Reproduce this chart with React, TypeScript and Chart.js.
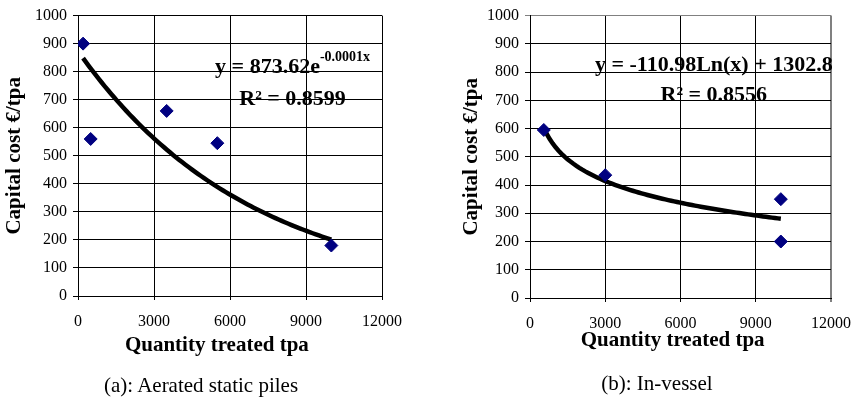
import React, { useEffect, useRef } from 'react';
import { Chart, registerables } from 'chart.js';

Chart.register(...registerables);

const FONT = '"Liberation Serif", "Times New Roman", Times, serif';

// (a) Aerated static piles
const pilesQuantity = [200, 500, 3500, 5500, 10000];
const pilesCost = [900, 560, 660, 545, 180];
// (b) In-vessel
const vesselQuantity = [550, 3000, 10000, 10000];
const vesselCost = [595, 435, 350, 200];

const xTickValues = [0, 3000, 6000, 9000, 12000];
const yTickValues = [0, 100, 200, 300, 400, 500, 600, 700, 800, 900, 1000];

// trend-line coefficients (as drawn)
const pilesFitA = 873.62;
const pilesFitK = -0.000147;
const vesselFitSlope = -110.98;
const vesselFitIntercept = 1302.8;

const pilesEqMain = 'y = 873.62e';
const pilesEqSup = '-0.0001x';
const pilesR2 = 'R² = 0.8599';
const vesselEqMain = 'y = -110.98Ln(x) + 1302.8';
const vesselR2 = 'R² = 0.8556';

const xTitle = 'Quantity treated tpa';
const yTitle = 'Capital cost €/tpa';
const pilesCaption = '(a): Aerated static piles';
const vesselCaption = '(b): In-vessel';

function sampleCurve(xs: number[], f: (x: number) => number) {
  const lo = Math.min(...xs);
  const hi = Math.max(...xs);
  const pts: { x: number; y: number }[] = [];
  const n = 80;
  for (let i = 0; i <= n; i++) {
    const x = lo + ((hi - lo) * i) / n;
    pts.push({ x, y: f(x) });
  }
  return pts;
}

type Eq = { main: string; sup?: string; r2: string; x: number; y1: number; y2: number };

function eqPlugin(eq: Eq) {
  return {
    id: 'equationLabel',
    afterDatasetsDraw(chart: any) {
      const { ctx, scales } = chart;
      const xs = scales.x;
      const ys = scales.y;
      const mainFont = `bold 22px ${FONT}`;
      const supFont = `bold 14px ${FONT}`;
      ctx.save();
      ctx.fillStyle = '#000';
      ctx.textBaseline = 'middle';
      ctx.font = mainFont;
      const wMain = ctx.measureText(eq.main).width;
      ctx.font = supFont;
      const wSup = eq.sup ? ctx.measureText(eq.sup).width : 0;
      const cx = xs.getPixelForValue(eq.x);
      const cy1 = ys.getPixelForValue(eq.y1);
      const left = cx - (wMain + wSup) / 2;
      ctx.textAlign = 'left';
      ctx.font = mainFont;
      ctx.fillText(eq.main, left, cy1);
      if (eq.sup) {
        ctx.font = supFont;
        ctx.fillText(eq.sup, left + wMain, cy1 - 10);
      }
      ctx.font = mainFont;
      ctx.textAlign = 'center';
      ctx.fillText(eq.r2, cx, ys.getPixelForValue(eq.y2));
      ctx.restore();
    },
  };
}

type Opts = {
  xs: number[];
  ys: number[];
  trend: { x: number; y: number }[];
  eq: Eq;
  yWidth: number;
  xHeight: number;
  padRight: number;
  padTop: number;
  yTitlePad: number;
  xTitlePad: number;
  xTitleText: string;
  greyBorder: boolean;
};

function makeConfig(o: Opts): any {
  const gridColor = (isEdge: boolean) => (o.greyBorder && isEdge ? '#808080' : '#000');
  return {
    type: 'scatter',
    data: {
      datasets: [
        {
          label: 'data',
          data: o.xs.map((x, i) => ({ x, y: o.ys[i] })),
          pointStyle: 'rectRot',
          pointRadius: 6.5,
          backgroundColor: '#000080',
          borderColor: '#000080',
          borderWidth: 1,
          order: 0,
        },
        {
          label: 'trend',
          data: o.trend,
          showLine: true,
          borderColor: '#000',
          borderWidth: 4.5,
          pointRadius: 0,
          tension: 0,
          fill: false,
          order: 1,
        },
      ],
    },
    options: {
      responsive: false,
      animation: false,
      devicePixelRatio: 1,
      layout: { padding: { left: 0, top: o.padTop, right: o.padRight, bottom: 0 } },
      plugins: { legend: { display: false }, tooltip: { enabled: false }, title: { display: false } },
      scales: {
        x: {
          type: 'linear',
          min: 0,
          max: 12000,
          afterBuildTicks: (s: any) => {
            s.ticks = xTickValues.map((v) => ({ value: v }));
          },
          afterFit: (s: any) => {
            s.height = o.xHeight;
          },
          ticks: {
            color: '#000',
            font: { family: FONT, size: 16 },
            padding: 12,
            maxRotation: 0,
            autoSkip: false,
            callback: (v: any) => String(v),
          },
          grid: {
            color: (c: any) => gridColor(c.tick && c.tick.value === 12000),
            lineWidth: (c: any) => (o.greyBorder && c.tick && c.tick.value === 12000 ? 2 : 1),
            tickLength: 4,
            drawTicks: true,
          },
          border: { color: '#000', width: 1 },
          title: {
            display: true,
            text: o.xTitleText,
            color: '#000',
            font: { family: FONT, size: 21, weight: 'bold' },
            padding: { top: 0, bottom: o.xTitlePad },
          },
        },
        y: {
          type: 'linear',
          min: 0,
          max: 1000,
          afterBuildTicks: (s: any) => {
            s.ticks = yTickValues.map((v) => ({ value: v }));
          },
          afterFit: (s: any) => {
            s.width = o.yWidth;
          },
          ticks: {
            color: '#000',
            font: { family: FONT, size: 16 },
            padding: 6,
            autoSkip: false,
            callback: (v: any) => String(v),
          },
          grid: {
            color: (c: any) => gridColor(c.tick && c.tick.value === 1000),
            lineWidth: 1,
            tickLength: 5,
            drawTicks: true,
          },
          border: { color: '#000', width: 1 },
          title: {
            display: true,
            text: yTitle,
            color: '#000',
            font: { family: FONT, size: 21, weight: 'bold' },
            padding: { top: o.yTitlePad, bottom: 0 },
          },
        },
      },
    },
    plugins: [eqPlugin(o.eq)],
  };
}

function ChartCanvas({ width, height, config }: { width: number; height: number; config: () => any }) {
  const ref = useRef<HTMLCanvasElement | null>(null);
  useEffect(() => {
    if (!ref.current) return;
    const chart = new Chart(ref.current, config());
    return () => chart.destroy();
  }, []);
  return <canvas ref={ref} width={width} height={height} style={{ width, height, display: 'block' }} />;
}

const captionStyle = (cx: number, top: number): React.CSSProperties => ({
  position: 'absolute',
  left: cx - 160,
  top,
  width: 320,
  textAlign: 'center',
  fontFamily: FONT,
  fontSize: 21,
  lineHeight: '24px',
  color: '#000',
});

export default function App() {
  const pilesConfig = () =>
    makeConfig({
      xs: pilesQuantity,
      ys: pilesCost,
      trend: sampleCurve(pilesQuantity, (x) => pilesFitA * Math.exp(pilesFitK * x)),
      eq: { main: pilesEqMain, sup: pilesEqSup, r2: pilesR2, x: 8470, y1: 816, y2: 703 },
      yWidth: 78,
      xHeight: 103,
      padRight: 48,
      padTop: 13,
      yTitlePad: 2,
      xTitlePad: 41,
      xTitleText: xTitle + '     ',
      greyBorder: false,
    });
  const vesselConfig = () =>
    makeConfig({
      xs: vesselQuantity,
      ys: vesselCost,
      trend: sampleCurve(vesselQuantity, (x) => vesselFitSlope * Math.log(x) + vesselFitIntercept),
      eq: { main: vesselEqMain, r2: vesselR2, x: 7330, y1: 825, y2: 719 },
      yWidth: 100,
      xHeight: 101,
      padRight: 26,
      padTop: 13,
      yTitlePad: 29,
      xTitlePad: 46,
      xTitleText: xTitle + '   ',
      greyBorder: true,
    });
  return (
    <div style={{ position: 'absolute', left: 0, top: 0, width: 863, height: 399, background: '#fff', overflow: 'hidden' }}>
      <div style={{ position: 'absolute', left: 0, top: 0 }}>
        <ChartCanvas width={430} height={399} config={pilesConfig} />
      </div>
      <div style={{ position: 'absolute', left: 430, top: 0 }}>
        <ChartCanvas width={433} height={399} config={vesselConfig} />
      </div>
      <div style={captionStyle(201, 373)}>{pilesCaption}</div>
      <div style={captionStyle(657, 371)}>{vesselCaption}</div>
    </div>
  );
}
